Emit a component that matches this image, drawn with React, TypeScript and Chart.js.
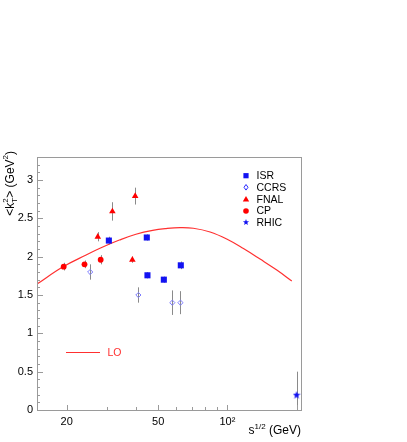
import React, { useEffect, useRef } from 'react';
import { Chart, registerables } from 'chart.js';

Chart.register(...registerables);

// ---- data ----
const isrX = [30.5, 44.6, 44.9, 52.9, 62.7];
const isrY = [2.21, 2.25, 1.757, 1.7, 1.887];
const isrErr = [0.05, 0.04, 0.04, 0.04, 0.05];

const ccrsX = [25.3, 41.0, 57.6, 62.5];
const ccrsY = [1.8, 1.5, 1.4, 1.4];
const ccrsErr = [0.1, 0.1, 0.16, 0.15];

const fnalX = [27.3, 31.6, 38.6, 39.7];
const fnalY = [2.26, 2.59, 1.96, 2.79];
const fnalErr = [0.06, 0.12, 0.04, 0.11];

const cpX = [19.4, 23.9, 28.1];
const cpY = [1.87, 1.9, 1.96];
const cpErr = [0.05, 0.05, 0.06];

const rhicX = [200];
const rhicY = [0.2];
const rhicErr = [0.3];

const loX = [14.85, 19.2, 24.3, 28.7, 33.9, 40.0, 47.3, 54.1, 62.2, 71.1, 84.1, 99.3, 117.4, 138.7, 164, 190.6];
const loY = [1.643, 1.865, 2.022, 2.126, 2.217, 2.293, 2.344, 2.367, 2.379, 2.371, 2.322, 2.23, 2.106, 1.969, 1.826, 1.683];

const xMin = 14.85;
const xMax = 209;
const yMin = 0;
const yMax = 3.3;

const xTickValues = [20, 30, 40, 50, 60, 70, 80, 90, 100, 200];
const xTickLabels: Record<number, string> = { 20: '20', 50: '50', 100: '10\u00b2' };
const xMajorTicks = [20, 50, 100, 200];

const yTickValues = [0, 0.5, 1, 1.5, 2, 2.5, 3];
const yTickLabels = ['0', '0.5', '1', '1.5', '2', '2.5', '3'];
const yMinorTicks = [0.1, 0.2, 0.3, 0.4, 0.6, 0.7, 0.8, 0.9, 1.1, 1.2, 1.3, 1.4, 1.6, 1.7, 1.8, 1.9, 2.1, 2.2, 2.3, 2.4, 2.6, 2.7, 2.8, 2.9, 3.1, 3.2];

const legendNames = ['ISR', 'CCRS', 'FNAL', 'CP', 'RHIC'];

const FONT = '"Liberation Sans", Arial, Helvetica, sans-serif';
const BLUE = '#1212f2';
const LIGHTBLUE = '#7d7dff';
const RED = '#ff0000';
const CURVE = '#ff3030';
const FRAME = '#9a9a9a';
const ERR = '#8a8a8a';

const series = [
  { name: 'ISR', x: isrX, y: isrY, err: isrErr, marker: 'square', color: BLUE, legendColor: BLUE },
  { name: 'CCRS', x: ccrsX, y: ccrsY, err: ccrsErr, marker: 'diamond', color: LIGHTBLUE, legendColor: '#2a2aff' },
  { name: 'FNAL', x: fnalX, y: fnalY, err: fnalErr, marker: 'triangle', color: RED, legendColor: RED },
  { name: 'CP', x: cpX, y: cpY, err: cpErr, marker: 'circle', color: RED, legendColor: RED },
  { name: 'RHIC', x: rhicX, y: rhicY, err: rhicErr, marker: 'star', color: BLUE, legendColor: BLUE },
];

function starPath(ctx: CanvasRenderingContext2D, cx: number, cy: number, ro: number, ri: number) {
  ctx.beginPath();
  for (let i = 0; i < 10; i++) {
    const r = i % 2 === 0 ? ro : ri;
    const a = -Math.PI / 2 + (i * Math.PI) / 5;
    const px = cx + r * Math.cos(a);
    const py = cy + r * Math.sin(a);
    if (i === 0) ctx.moveTo(px, py);
    else ctx.lineTo(px, py);
  }
  ctx.closePath();
}

function makeStar(color: string, size: number) {
  const c = document.createElement('canvas');
  c.width = size;
  c.height = size;
  const g = c.getContext('2d')!;
  g.fillStyle = color;
  starPath(g, size / 2, size / 2 + 0.5, size / 2, size / 4.6);
  g.fill();
  return c;
}

function drawMarker(ctx: CanvasRenderingContext2D, kind: string, x: number, y: number, color: string) {
  ctx.save();
  ctx.fillStyle = color;
  ctx.strokeStyle = color;
  ctx.lineWidth = 1;
  ctx.beginPath();
  if (kind === 'square') {
    ctx.rect(x - 2.6, y - 2.6, 5.2, 5.2);
    ctx.fill();
  } else if (kind === 'diamond') {
    ctx.moveTo(x, y - 2.8);
    ctx.lineTo(x + 2, y);
    ctx.lineTo(x, y + 2.8);
    ctx.lineTo(x - 2, y);
    ctx.closePath();
    ctx.stroke();
  } else if (kind === 'triangle') {
    ctx.moveTo(x, y - 3.2);
    ctx.lineTo(x + 3.2, y + 2.3);
    ctx.lineTo(x - 3.2, y + 2.3);
    ctx.closePath();
    ctx.fill();
  } else if (kind === 'circle') {
    ctx.arc(x, y, 2.8, 0, Math.PI * 2);
    ctx.fill();
  } else if (kind === 'star') {
    starPath(ctx, x, y, 3.2, 1.4);
    ctx.fill();
  }
  ctx.restore();
}

type Piece = { t: string; size: number; dy: number; stack?: boolean };

function measurePieces(ctx: CanvasRenderingContext2D, pieces: Piece[]) {
  let w = 0;
  let prevW = 0;
  for (const p of pieces) {
    ctx.font = `${p.size}px ${FONT}`;
    const pw = ctx.measureText(p.t).width;
    if (p.stack) {
      w += Math.max(0, pw - prevW);
      prevW = Math.max(prevW, pw);
    } else {
      w += pw;
      prevW = pw;
    }
  }
  return w;
}

function drawPieces(ctx: CanvasRenderingContext2D, pieces: Piece[], x0: number, y0: number) {
  let x = x0;
  let lastX = x0;
  let prevW = 0;
  for (const p of pieces) {
    ctx.font = `${p.size}px ${FONT}`;
    const pw = ctx.measureText(p.t).width;
    if (p.stack) {
      ctx.fillText(p.t, lastX, y0 + p.dy);
      x = lastX + Math.max(prevW, pw);
      prevW = Math.max(prevW, pw);
    } else {
      ctx.fillText(p.t, x, y0 + p.dy);
      lastX = x;
      x += pw;
      prevW = pw;
    }
  }
}

const overlay = {
  id: 'overlay',
  beforeDatasetsDraw(chart: any) {
    const { ctx, chartArea: a, scales } = chart;
    const xs = scales.x;
    const ys = scales.y;
    ctx.save();
    ctx.beginPath();
    ctx.rect(a.left, a.top, a.right - a.left, a.bottom - a.top);
    ctx.clip();
    ctx.strokeStyle = ERR;
    ctx.lineWidth = 1;
    for (const s of series) {
      s.x.forEach((xv, i) => {
        const px = Math.round(xs.getPixelForValue(xv)) + 0.5;
        ctx.beginPath();
        ctx.moveTo(px, ys.getPixelForValue(s.y[i] - s.err[i]));
        ctx.lineTo(px, ys.getPixelForValue(s.y[i] + s.err[i]));
        ctx.stroke();
      });
    }
    ctx.restore();
  },
  afterDraw(chart: any) {
    const { ctx, chartArea: a, scales } = chart;
    const xs = scales.x;
    const ys = scales.y;
    ctx.save();
    // frame
    ctx.strokeStyle = FRAME;
    ctx.lineWidth = 1;
    ctx.strokeRect(Math.round(a.left) + 0.5, Math.round(a.top) + 0.5, Math.round(a.right - a.left), Math.round(a.bottom - a.top));
    // y ticks (inward)
    ctx.beginPath();
    for (const v of yTickValues) {
      const py = Math.round(ys.getPixelForValue(v)) + 0.5;
      ctx.moveTo(a.left, py);
      ctx.lineTo(a.left + 6, py);
    }
    for (const v of yMinorTicks) {
      const py = Math.round(ys.getPixelForValue(v)) + 0.5;
      ctx.moveTo(a.left, py);
      ctx.lineTo(a.left + 3, py);
    }
    // x ticks (inward)
    for (const v of xTickValues) {
      const px = Math.round(xs.getPixelForValue(v)) + 0.5;
      const len = xMajorTicks.includes(v) ? 5 : 3;
      ctx.moveTo(px, a.bottom);
      ctx.lineTo(px, a.bottom - len);
    }
    ctx.stroke();

    // y title (rotated)
    ctx.fillStyle = '#000';
    ctx.textBaseline = 'alphabetic';
    ctx.textAlign = 'left';
    const yPieces: Piece[] = [
      { t: '<k', size: 12, dy: 0 },
      { t: 'T', size: 8, dy: 3 },
      { t: '2', size: 8, dy: -6, stack: true },
      { t: '> (GeV', size: 12, dy: 0 },
      { t: '2', size: 8, dy: -6 },
      { t: ')', size: 12, dy: 0 },
    ];
    const yw = measurePieces(ctx, yPieces);
    ctx.save();
    ctx.translate(14, 151 + yw);
    ctx.rotate(-Math.PI / 2);
    drawPieces(ctx, yPieces, 0, 0);
    ctx.restore();

    // x title
    const xPieces: Piece[] = [
      { t: 's', size: 12, dy: 0 },
      { t: '1/2', size: 8, dy: -5 },
      { t: ' (GeV)', size: 12, dy: 0 },
    ];
    const xw = measurePieces(ctx, xPieces);
    drawPieces(ctx, xPieces, 301 - xw, 434);

    // legend
    const rows = [175.7, 187.3, 199.3, 211, 222.3];
    ctx.textBaseline = 'middle';
    series.forEach((s, i) => {
      drawMarker(ctx, s.marker, 246, rows[i], s.legendColor);
      ctx.font = `10.5px ${FONT}`;
      ctx.fillStyle = '#000';
      ctx.fillText(legendNames[i], 256.5, rows[i] + 0.5);
    });

    // LO legend
    ctx.strokeStyle = CURVE;
    ctx.lineWidth = 1;
    ctx.beginPath();
    ctx.moveTo(66, 352.5);
    ctx.lineTo(100, 352.5);
    ctx.stroke();
    ctx.fillStyle = CURVE;
    ctx.font = `10.5px ${FONT}`;
    ctx.fillText('LO', 107.5, 353);
    ctx.restore();
  },
};

export default function App() {
  const ref = useRef<HTMLCanvasElement>(null);
  useEffect(() => {
    const canvas = ref.current;
    if (!canvas) return;
    const star = makeStar(BLUE, 8);
    const pts = (xa: number[], ya: number[]) => xa.map((v, i) => ({ x: v, y: ya[i] }));
    const chart = new Chart(canvas, {
      type: 'scatter',
      data: {
        datasets: [
          { label: 'ISR', data: pts(isrX, isrY), pointStyle: 'rect', pointRadius: 4.3, backgroundColor: BLUE, borderColor: BLUE, borderWidth: 0 },
          { label: 'CCRS', data: pts(ccrsX, ccrsY), pointStyle: 'rectRot', pointRadius: 2.6, backgroundColor: 'rgba(0,0,0,0)', borderColor: LIGHTBLUE, borderWidth: 1 },
          { label: 'FNAL', data: pts(fnalX, fnalY), pointStyle: 'triangle', pointRadius: 3.8, backgroundColor: RED, borderColor: RED, borderWidth: 0 },
          { label: 'CP', data: pts(cpX, cpY), pointStyle: 'circle', pointRadius: 2.9, backgroundColor: RED, borderColor: RED, borderWidth: 0 },
          { label: 'RHIC', data: pts(rhicX, rhicY), pointStyle: star as any, pointRadius: 4, backgroundColor: BLUE, borderColor: BLUE },
          {
            label: 'LO',
            data: pts(loX, loY),
            showLine: true,
            pointRadius: 0,
            borderColor: CURVE,
            borderWidth: 1.2,
            tension: 0.4,
            fill: false,
          } as any,
        ],
      },
      options: {
        responsive: false,
        animation: false,
        devicePixelRatio: 1,
        layout: { padding: { left: 0, top: 157, right: 106, bottom: 0 } },
        plugins: { legend: { display: false }, tooltip: { enabled: false } },
        scales: {
          x: {
            type: 'logarithmic',
            min: xMin,
            max: xMax,
            grid: { display: false, drawTicks: false },
            border: { display: false },
            afterBuildTicks: (s: any) => {
              s.ticks = xTickValues.map((v) => ({ value: v }));
            },
            afterFit: (s: any) => {
              s.height = 32;
            },
            ticks: {
              autoSkip: false,
              maxRotation: 0,
              minRotation: 0,
              padding: 5,
              color: '#000',
              font: { family: FONT, size: 11 },
              callback: (v: any) => xTickLabels[Number(v)] ?? '',
            },
          },
          y: {
            type: 'linear',
            min: yMin,
            max: yMax,
            grid: { display: false, drawTicks: false },
            border: { display: false },
            afterBuildTicks: (s: any) => {
              s.ticks = yTickValues.map((v) => ({ value: v }));
            },
            afterFit: (s: any) => {
              s.width = 37;
            },
            ticks: {
              padding: 4,
              color: '#000',
              font: { family: FONT, size: 11 },
              callback: (v: any) => {
                const i = yTickValues.indexOf(Number(v));
                return i >= 0 ? yTickLabels[i] : '';
              },
            },
          },
        },
      },
      plugins: [overlay],
    });
    return () => chart.destroy();
  }, []);
  return (
    <div style={{ position: 'absolute', left: 0, top: 0, width: 407, height: 442, background: '#fff' }}>
      <canvas ref={ref} width={407} height={442} style={{ display: 'block' }} />
    </div>
  );
}
